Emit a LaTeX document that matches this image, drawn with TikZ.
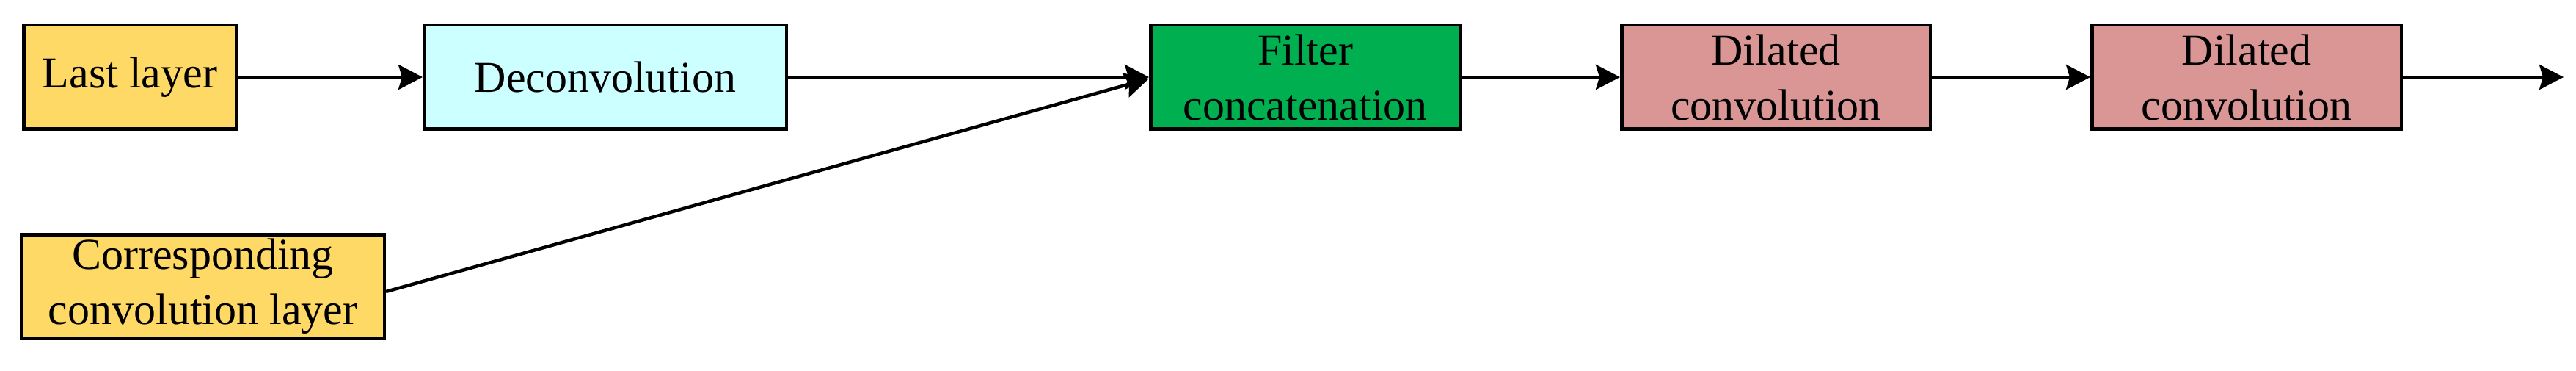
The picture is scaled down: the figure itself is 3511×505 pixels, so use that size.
\documentclass[tikz,border=0pt]{standalone}
\usepackage{fontspec}
\setmainfont{Liberation Serif}
\usetikzlibrary{arrows.meta}
\definecolor{cyellow}{HTML}{FFD966}
\definecolor{ccyan}{HTML}{CCFFFF}
\definecolor{cgreen}{HTML}{00B050}
\definecolor{cpink}{HTML}{D99694}
\tikzset{
  blk/.style={draw=black, line width=4.5pt, rectangle, inner sep=0pt, align=center,
    minimum height=141.5pt, font=\fontsize{60}{75}\selectfont},
  conn/.style={line width=4.5pt, -{Stealth[length=33pt, width=34pt, inset=5pt]}},
}
\begin{document}
\begin{tikzpicture}[x=1pt,y=-1pt]
\useasboundingbox (0,0) rectangle (3511,505);
\node[blk, fill=cyellow, minimum width=289.5pt] (last) at (177,105) {Last layer};
\node[blk, fill=ccyan, minimum width=493.5pt] (deconv) at (825,105) {Deconvolution};
\node[blk, fill=cgreen, minimum width=421.5pt] (filter) at (1779,105) {Filter\\concatenation};
\node[blk, fill=cpink, minimum width=420.5pt] (dil1) at (2420.5,105) {Dilated\\convolution};
\node[blk, fill=cpink, minimum width=421.5pt] (dil2) at (3062,105) {Dilated\\convolution};
\node[blk, fill=cyellow, minimum width=494.5pt] (corr) at (276.5,390) {Corresponding\\convolution layer};
\coordinate (out) at (3494,105);
\draw[conn] (last) -- (deconv);
\draw[conn] (deconv) -- (filter);
\draw[conn] ([yshift=-7pt]corr.east) -- ([yshift=-2pt]filter.west);
\draw[conn] (filter) -- (dil1);
\draw[conn] (dil1) -- (dil2);
\draw[conn] (dil2) -- (out);
\end{tikzpicture}
\end{document}
